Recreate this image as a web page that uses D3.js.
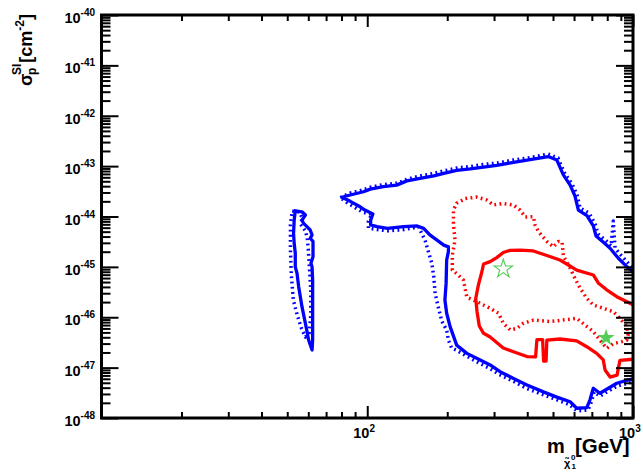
<!DOCTYPE html>
<html>
<head>
<meta charset="utf-8">
<script src="https://cdn.jsdelivr.net/npm/d3@7"></script>
<style>
  body { margin: 0; background: #fff; }
  svg { display: block; }
  text { font-family: "Liberation Sans", Arial, sans-serif; font-weight: bold; fill: #000; }
</style>
</head>
<body>
<svg id="chart" width="641" height="470"></svg>
<script>
// Axis ranges
const massRange = [10, 1000];          // neutralino mass, GeV
const sigmaRange = [1e-48, 1e-40];     // spin-independent cross section, cm^2

// Tick labels
const yLabelValues = [1e-40, 1e-41, 1e-42, 1e-43, 1e-44, 1e-45, 1e-46, 1e-47, 1e-48];
const yLabelExps = ["-40", "-41", "-42", "-43", "-44", "-45", "-46", "-47", "-48"];
const xLabelValues = [100, 1000];
const xLabelExps = ["2", "3"];

// Blue contour, central (solid) -- [mass GeV, sigma cm^2]
const blueSolidMain = [
  [80.3, 2.41e-44], [86.3, 2.67e-44], [96.8, 3.1e-44], [102.6, 3.5e-44], [115, 3.9e-44],
  [129, 4.2e-44], [141, 5.1e-44], [158, 5.7e-44], [178, 6.4e-44], [194, 7.2e-44],
  [217, 8.2e-44], [244, 8.8e-44], [274, 9.6e-44], [307, 1.03e-43], [355, 1.19e-43],
  [410, 1.34e-43], [480, 1.55e-43], [517, 1.32e-43], [547, 6.7e-44], [580, 4.2e-44],
  [605, 2.55e-44], [623, 1.34e-44], [671, 1.04e-44], [709, 6.5e-45], [726, 4.1e-45],
  [778, 3.0e-45], [820, 2.34e-45], [881, 1.48e-45], [950, 1.0e-45], [1026, 7.2e-46],
  [1044, 6.2e-48], [960, 5.7e-48], [869, 4.9e-48], [808, 3.9e-48], [751, 3.1e-48],
  [709, 3.9e-48], [689, 2.3e-48], [670, 1.6e-48], [614, 1.56e-48], [580, 2.1e-48],
  [517, 2.6e-48], [460, 3.3e-48], [399, 4.5e-48], [355, 6.1e-48], [316, 8.3e-48],
  [290, 1.13e-47], [266, 1.42e-47], [237, 1.92e-47], [217, 2.8e-47], [205, 6.5e-47],
  [199, 1.2e-46], [196, 2.2e-46], [198, 4.7e-46], [199, 1.37e-45], [202, 2.0e-45],
  [202, 2.5e-45], [194, 2.7e-45], [183, 3.4e-45], [172, 4.3e-45], [163, 5.8e-45],
  [154, 6.5e-45], [137, 6.3e-45], [119, 5.8e-45], [109, 6.3e-45], [103, 6.8e-45],
  [103, 8.5e-45], [105, 1.12e-44], [98, 1.34e-44], [94, 1.56e-44], [86.3, 2.0e-44]
];

// Blue contour, variation (dotted)
const blueDottedMain = [
  [79.2, 2.38e-44], [86.3, 2.92e-44], [96.6, 3.4e-44], [102.6, 3.8e-44], [115, 4.3e-44],
  [130, 4.6e-44], [141, 5.5e-44], [158, 6.4e-44], [177, 7.1e-44], [193, 8.0e-44],
  [218, 9.2e-44], [244, 9.8e-44], [273, 1.08e-43], [308, 1.15e-43], [354, 1.32e-43],
  [410, 1.48e-43], [479, 1.74e-43], [522, 1.45e-43], [555, 7.0e-44], [590, 4.4e-44],
  [616, 2.67e-44], [632, 1.47e-44], [683, 1.17e-44], [720, 7.1e-45], [739, 4.5e-45],
  [792, 3.3e-45], [827, 2.6e-45], [843, 8.1e-45], [856, 2.37e-45], [893, 1.8e-45],
  [966, 1.14e-45], [1044, 7.9e-46], [1044, 5.7e-48], [958, 4.9e-48], [871, 4.3e-48],
  [805, 3.4e-48], [751, 2.7e-48], [714, 3.3e-48], [695, 2.0e-48], [677, 1.44e-48],
  [616, 1.38e-48], [575, 1.85e-48], [514, 2.33e-48], [459, 2.9e-48], [396, 3.9e-48],
  [354, 5.4e-48], [314, 7.3e-48], [287, 9.8e-48], [264, 1.23e-47], [236, 1.71e-47],
  [216, 2.24e-47], [208, 2.42e-47], [202, 3.5e-47], [199, 5.6e-47], [191, 8.2e-47],
  [185, 1.6e-46], [180, 3.0e-46], [178, 6.3e-46], [175, 1.18e-45], [170, 1.97e-45],
  [165, 3.4e-45], [158, 5.4e-45], [156, 6.2e-45], [137, 5.5e-45], [119, 5.2e-45],
  [109, 5.5e-45], [101, 5.9e-45], [101, 8.1e-45], [104, 1.12e-44], [96.6, 1.2e-44],
  [92.5, 1.38e-44], [84.8, 1.81e-44]
];

// Blue low-mass island, central (solid)
const blueSolidIsland = [
  [53.6, 1.3e-44], [56.8, 1.24e-44], [58.5, 1.07e-44], [56.8, 8.5e-45], [57.6, 7.3e-45],
  [59.3, 6.3e-45], [61.0, 5.4e-45], [62.0, 4.3e-45], [61.0, 3.7e-45], [62.5, 3.2e-45],
  [62.5, 1.59e-45], [61.4, 1.18e-45], [62.0, 1.0e-45], [62.3, 5.5e-46], [62.3, 1.2e-46],
  [62.3, 3.5e-47], [62.0, 2.24e-47], [60.2, 3.5e-47], [58.5, 7.6e-47], [56.8, 1.62e-46],
  [55.2, 4.05e-46], [54.4, 7.5e-46], [53.6, 1.0e-45], [53.6, 1.86e-45], [53.1, 2.93e-45],
  [52.8, 4.6e-45], [53.1, 8.5e-45]
];

// Blue low-mass island, variation (dotted)
const blueDottedIsland = [
  [52.2, 1.28e-44], [55.5, 1.22e-44], [57.0, 9.3e-45], [56.0, 7.1e-45], [58.5, 5.2e-45],
  [59.5, 3.7e-45], [60.0, 2.16e-45], [60.5, 1.09e-45], [61.3, 3.5e-46], [61.3, 1.11e-46],
  [60.5, 4.9e-47], [58.5, 4.05e-47], [56.5, 6.1e-47], [54.5, 1.11e-46], [52.7, 2.2e-46],
  [51.8, 6.9e-46], [51.4, 2.16e-45], [51.4, 6.8e-45]
];

// Red contour, central (solid)
const redSolid = [
  [274, 1.14e-45], [290, 1.27e-45], [307, 1.53e-45], [325, 1.93e-45], [345, 2.13e-45],
  [376, 2.16e-45], [422, 2.07e-45], [474, 1.68e-45], [531, 1.37e-45], [563, 1.14e-45],
  [614, 8.6e-46], [709, 6.9e-46], [740, 4.8e-46], [796, 3.5e-46], [869, 2.56e-46],
  [974, 1.89e-46], [1062, 1.53e-46], [1062, 1.48e-47], [974, 1.45e-47], [893, 1.39e-47],
  [881, 9.8e-48], [871, 7.1e-48], [820, 6.5e-48], [785, 9.0e-48], [773, 1.42e-47],
  [730, 1.92e-47], [670, 2.6e-47], [614, 3.4e-47], [531, 3.7e-47], [474, 3.5e-47],
  [471, 1.35e-47], [461, 1.35e-47], [457, 3.6e-47], [435, 3.6e-47], [430, 1.63e-47],
  [399, 1.66e-47], [355, 2.07e-47], [325, 2.45e-47], [290, 4.05e-47], [274, 4.8e-47],
  [264, 6.7e-47], [259, 1.27e-46], [256, 2.36e-46], [262, 4.4e-46], [270, 8.0e-46]
];

// Red contour, variation (dotted)
const redDotted = [
  [234, 2.27e-44], [258, 2.43e-44], [282, 2.12e-44], [298, 1.69e-44], [325, 1.81e-44],
  [355, 1.69e-44], [376, 1.34e-44], [393, 9.8e-45], [422, 9.9e-45], [428, 6.8e-45],
  [441, 5.0e-45], [474, 3.2e-45], [502, 2.5e-45], [524, 3.2e-45], [541, 3.1e-45],
  [547, 1.64e-45], [580, 9.4e-46], [605, 5.9e-46], [632, 3.8e-46], [670, 2.38e-46],
  [709, 1.75e-46], [773, 1.51e-46], [843, 1.29e-46], [893, 9.5e-47], [947, 6.5e-47],
  [958, 4.4e-47], [947, 3.5e-47], [893, 3.2e-47], [843, 3.0e-47], [796, 2.42e-47],
  [751, 3.5e-47], [709, 5.2e-47], [660, 7.0e-47], [614, 9.5e-47], [563, 9.0e-47],
  [488, 8.2e-47], [422, 8.8e-47], [387, 7.6e-47], [365, 6.0e-47], [345, 5.6e-47],
  [325, 7.6e-47], [312, 1.2e-46], [290, 1.51e-46], [266, 1.89e-46], [251, 2.2e-46],
  [237, 2.5e-46], [234, 3.5e-46], [230, 5.5e-46], [220, 6.9e-46], [209, 8.7e-46],
  [209, 1.72e-45], [214, 3.4e-45], [211, 6.8e-45], [211, 1.34e-44], [217, 1.83e-44]
];

// Benchmark points [mass GeV, sigma cm^2]
const openStarPoint = [325, 9.1e-46];
const filledStarPoint = [792, 3.9e-47];

// ---------------------------------------------------------------
const W = 641, H = 470;
const L = 101.5, R = 633, T = 15, B = 418;
const blue = "#0000ff", red = "#ff0000", green = "#55cc55";

const svg = d3.select("#chart");
svg.append("rect").attr("width", W).attr("height", H).attr("fill", "#fff");

const x = d3.scaleLog().domain(massRange).range([L, R]);
const y = d3.scaleLog().domain(sigmaRange).range([B, T]);

svg.append("defs").append("clipPath").attr("id", "plotArea")
  .append("rect").attr("x", L).attr("y", T).attr("width", R - L).attr("height", B - T);

const plot = svg.append("g").attr("clip-path", "url(#plotArea)");
const closedLine = d3.line().x(d => x(d[0])).y(d => y(d[1])).curve(d3.curveLinearClosed);

function drawContour(data, color, dotted) {
  plot.append("path")
    .attr("d", closedLine(data))
    .attr("fill", "none")
    .attr("stroke", color)
    .attr("stroke-width", dotted ? 3.5 : 3.3)
    .attr("stroke-dasharray", dotted ? "1.8,3.4" : null)
    .attr("stroke-linejoin", "round");
}

drawContour(blueDottedMain, blue, true);
drawContour(blueDottedIsland, blue, true);
drawContour(blueSolidMain, blue, false);
drawContour(blueSolidIsland, blue, false);
drawContour(redDotted, red, true);
drawContour(redSolid, red, false);

// Benchmark stars
plot.append("path")
  .attr("transform", `translate(${x(openStarPoint[0])},${y(openStarPoint[1])})`)
  .attr("d", d3.symbol(d3.symbolStar, 106)())
  .attr("fill", "none").attr("stroke", green).attr("stroke-width", 1.1);
plot.append("path")
  .attr("transform", `translate(${x(filledStarPoint[0])},${y(filledStarPoint[1])})`)
  .attr("d", d3.symbol(d3.symbolStar, 92)())
  .attr("fill", green).attr("stroke", "none");

// Frame ticks on all four sides
const isDecade = v => Math.abs(Math.log10(v) - Math.round(Math.log10(v))) < 1e-6;
const xTicks = x.ticks(), yTicks = y.ticks();
const xMinor = xTicks.filter(v => !isDecade(v)), xMajor = xTicks.filter(isDecade);
const yMinor = yTicks.filter(v => !isDecade(v)), yMajor = yTicks.filter(isDecade);

function tickSet(axisGen, values, size, tx, ty) {
  svg.append("g").attr("transform", `translate(${tx},${ty})`)
    .call(axisGen.tickValues(values).tickSize(size).tickFormat(""))
    .call(g => g.select(".domain").remove())
    .call(g => g.selectAll("text").remove())
    .selectAll("line").attr("stroke", "#000").attr("stroke-width", 2);
}
tickSet(d3.axisBottom(x), xMinor, -6, 0, B);
tickSet(d3.axisBottom(x), xMajor, -12, 0, B);
tickSet(d3.axisTop(x), xMinor, -6, 0, T);
tickSet(d3.axisTop(x), xMajor, -12, 0, T);
tickSet(d3.axisLeft(y), yMinor, -9, L, 0);
tickSet(d3.axisLeft(y), yMajor, -17, L, 0);
tickSet(d3.axisRight(y), yMinor, -9, R, 0);
tickSet(d3.axisRight(y), yMajor, -17, R, 0);

// Frame
svg.append("rect").attr("x", L).attr("y", T).attr("width", R - L).attr("height", B - T)
  .attr("fill", "none").attr("stroke", "#000").attr("stroke-width", 3);

// Y tick labels
yLabelValues.forEach((v, i) => {
  const t = svg.append("text").attr("x", 95).attr("y", y(v) + 8).attr("text-anchor", "end");
  t.append("tspan").attr("font-size", 14.5).text("10");
  t.append("tspan").attr("font-size", 10).attr("dy", -7).text(yLabelExps[i]);
});

// X tick labels
xLabelValues.forEach((v, i) => {
  const t = svg.append("text").attr("x", x(v) - 14).attr("y", 438);
  t.append("tspan").attr("font-size", 14.5).text("10");
  t.append("tspan").attr("font-size", 10).attr("dy", -6).text(xLabelExps[i]);
});

// X axis title: m with neutralino subscript, then [GeV]
const xt = svg.append("g");
xt.append("text").attr("x", 547).attr("y", 453).attr("font-size", 20).text("m");
xt.append("text").attr("x", 564).attr("y", 467).attr("font-size", 11).attr("font-weight", "normal").text("\u03c7\u0303");
xt.append("text").attr("x", 571).attr("y", 460).attr("font-size", 8).text("0");
xt.append("text").attr("x", 571.5).attr("y", 469).attr("font-size", 8).text("1");
xt.append("text").attr("x", 575).attr("y", 453).attr("font-size", 20.5).text("[GeV]");

// Y axis title: sigma_p^SI [cm^-2], rotated
const yt = svg.append("g").attr("transform", "translate(32,14) rotate(-90)");
yt.append("text").attr("x", -72).attr("y", 0).attr("font-size", 18).attr("font-weight", "normal").text("\u03c3");
yt.append("text").attr("x", -61).attr("y", -11).attr("font-size", 12).text("SI");
yt.append("text").attr("x", -61).attr("y", 4).attr("font-size", 12).text("p");
const yt2 = yt.append("text").attr("x", 0).attr("y", 0).attr("text-anchor", "end");
yt2.append("tspan").attr("font-size", 18).text("[cm");
yt2.append("tspan").attr("font-size", 12).attr("dy", -8).text("-2");
yt2.append("tspan").attr("font-size", 18).attr("dy", 8).text("]");
</script>
</body>
</html>
